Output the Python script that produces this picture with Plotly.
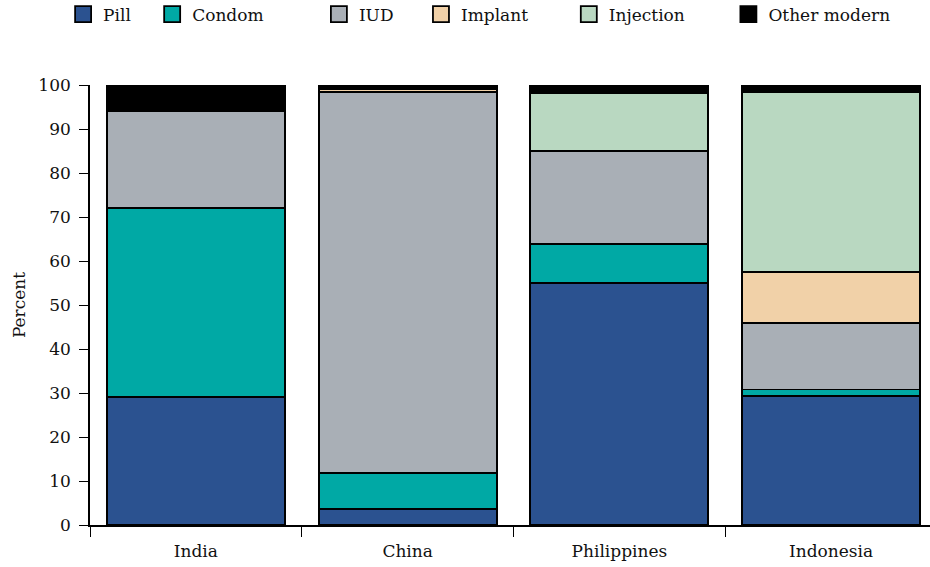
import plotly.graph_objects as go

# Method mix among modern contraceptive users (percent)
countries = ["India", "China", "Philippines", "Indonesia"]
methods = ["Pill", "Condom", "IUD", "Implant", "Injection", "Other modern"]
pill = [29.0, 3.7, 55.0, 29.3]
condom = [43.0, 8.1, 8.8, 1.5]
iud = [22.0, 86.6, 21.1, 15.1]
implant = [0.0, 0.7, 0.0, 11.7]
injection = [0.0, 0.0, 13.2, 40.8]
other_modern = [6.0, 0.9, 1.9, 1.6]

series = [pill, condom, iud, implant, injection, other_modern]
colors = ["#2B5290", "#00A9A5", "#A9AFB6", "#F1D1A8", "#B9D8C1", "#000000"]

# one single-item legend per method so each entry can sit at its own spot
legend_x = [-0.032, 0.074, 0.2725, 0.394, 0.570, 0.760]
legend_names = ["legend", "legend2", "legend3", "legend4", "legend5", "legend6"]

FONT = dict(family="DejaVu Serif", size=17, color="#111111")

fig = go.Figure()
for name, vals, col in zip(methods, series, colors):
    fig.add_trace(go.Bar(
        x=countries, y=vals, name=name, showlegend=False,
        marker=dict(color=col, line=dict(color="#000000", width=1.9)),
    ))

# legend keys: large outlined squares
for name, col, lg in zip(methods, colors, legend_names):
    fig.add_trace(go.Scatter(
        x=[None], y=[None], mode="markers", name=name, legend=lg,
        marker=dict(symbol="square", size=17, color=col,
                    line=dict(color="#000000", width=1.8)),
    ))

layout_legends = {}
for lg, lx in zip(legend_names, legend_x):
    layout_legends[lg] = dict(
        x=lx, y=1.16, xanchor="left", yanchor="middle",
        orientation="h", bgcolor="rgba(0,0,0,0)", font=FONT,
        itemsizing="trace", itemclick=False, itemdoubleclick=False,
    )

fig.update_layout(
    barmode="stack",
    bargap=0.16,
    width=930, height=567,
    margin=dict(l=90, r=0, t=85, b=42, autoexpand=False),
    paper_bgcolor="white", plot_bgcolor="white",
    font=FONT,
    showlegend=True,
    **layout_legends,
)

fig.update_xaxes(
    range=[-0.5, 3.467],
    showline=True, linecolor="#000000", linewidth=1.6,
    ticks="outside", ticklen=10, tickwidth=1.4, tickcolor="#000000",
    tickson="boundaries", showgrid=False, zeroline=False,
    ticklabelstandoff=10,
    tickfont=FONT,
)
fig.update_yaxes(
    range=[0, 100], dtick=10,
    showline=True, linecolor="#000000", linewidth=1.6,
    ticks="outside", ticklen=9, tickwidth=1.4, tickcolor="#000000",
    showgrid=False, zeroline=False,
    ticklabelstandoff=5,
    title=dict(text="Percent", font=FONT, standoff=8),
    tickfont=FONT,
)

fig.write_html("out.html")
